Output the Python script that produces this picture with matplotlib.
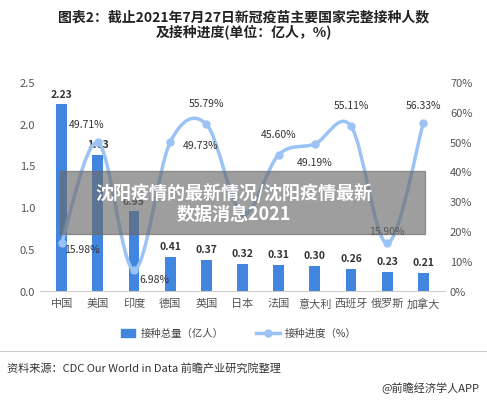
import matplotlib
matplotlib.use("Agg")
import matplotlib.pyplot as plt
import numpy as np
from matplotlib.path import Path
from matplotlib.patches import PathPatch, Rectangle

plt.rcParams['font.family'] = ['Noto Sans CJK SC', 'DejaVu Sans']

countries = ['中国','美国','印度','德国','英国','日本','法国','意大利','西班牙','俄罗斯','加拿大']
totals = [2.23,1.63,0.95,0.41,0.37,0.32,0.31,0.30,0.26,0.23,0.21]
progress = [15.98,49.71,6.98,49.73,55.79,25.9,45.60,49.19,55.11,15.90,56.33]
plabels = ['15.98%','49.71%','6.98%','49.73%','55.79%','','45.60%','49.19%','55.11%','15.90%','56.33%']

fig = plt.figure(figsize=(4.87,4.02), dpi=100)
ax = fig.add_axes([0.082, 0.274, 0.832, 0.52])
ax2 = ax.twinx()
x = np.arange(len(countries))
bc = '#4185de'; lc = '#9cc3f5'
ax.bar(x, totals, width=0.3, color=bc, zorder=2)
for xi, v in zip(x, totals):
    ax.text(xi, v+0.07, f'{v:.2f}', ha='center', va='bottom', fontsize=7.5, fontweight='bold', color='#333')
ax.set_ylim(0,2.5); ax.set_xlim(-0.6,10.6)
ax.set_yticks(np.arange(0,2.51,0.5)); ax.set_yticklabels([f'{v:.1f}' for v in np.arange(0,2.51,0.5)])
ax2.set_ylim(0,70); ax2.set_yticks(range(0,71,10)); ax2.set_yticklabels([f'{v}%' for v in range(0,71,10)])
ax.set_xticks(x); ax.set_xticklabels(countries)
for a in (ax, ax2):
    for s in a.spines.values(): s.set_visible(False)
    a.tick_params(length=0, labelsize=8, colors='#555')
ax.tick_params(axis='x', pad=5)
ax.spines['bottom'].set_visible(True); ax.spines['bottom'].set_color('#ccc')

pts = np.column_stack([x, progress]).astype(float)
verts=[tuple(pts[0])]; codes=[Path.MOVETO]
for i in range(len(pts)-1):
    p0 = pts[i-1] if i>0 else pts[i]; p1=pts[i]; p2=pts[i+1]; p3 = pts[i+2] if i+2<len(pts) else pts[i+1]
    c1 = p1+(p2-p0)/6; c2 = p2-(p3-p1)/6
    verts += [tuple(c1),tuple(c2),tuple(p2)]; codes += [Path.CURVE4]*3
ax2.add_patch(PathPatch(Path(verts,codes), fill=False, ec=lc, lw=2.5, zorder=3))
ax2.plot(x, progress, 'o', color=lc, ms=5, zorder=4)
offs = {0:(0.55,-2),1:(-0.3,6),2:(0.55,-3),3:(0.85,-1),4:(0,7),6:(0,7),7:(0,-6),8:(0,7),9:(0,4),10:(0,6)}
for i,l in enumerate(plabels):
    if l:
        dx,dy = offs[i]
        ax2.text(x[i]+dx, progress[i]+dy, l, ha='center', va='center', fontsize=7.5, color='#333', zorder=5)

fig.text(0.5, 0.975, '图表2：截止2021年7月27日新冠疫苗主要国家完整接种人数\n及接种进度(单位：亿人，%)', ha='center', va='top', fontsize=10, fontweight='bold', color='#222', linespacing=1.0)

ly = 0.169
fig.patches.append(Rectangle((0.248,ly-0.011),0.03,0.022, transform=fig.transFigure, color=bc))
fig.text(0.29, ly, '接种总量（亿人）', fontsize=7.5, va='center', color='#444')
fig.lines.append(plt.Line2D([0.525,0.575],[ly,ly], transform=fig.transFigure, color=lc, lw=2.5))
fig.lines.append(plt.Line2D([0.55],[ly], transform=fig.transFigure, color=lc, marker='o', ms=5))
fig.text(0.585, ly, '接种进度（%）', fontsize=7.5, va='center', color='#444')

fig.lines.append(plt.Line2D([0.0,1.0],[0.124,0.124], transform=fig.transFigure, color='#ccc', lw=0.8))
fig.text(0.015, 0.083, '资料来源：CDC Our World in Data 前瞻产业研究院整理', fontsize=8, va='center', color='#333')
fig.text(0.985, 0.035, '@前瞻经济学人APP', fontsize=8, va='center', ha='right', color='#333')

fig.patches.append(Rectangle((0.123,0.415),0.75,0.157, transform=fig.transFigure, color='#6b6b6b', alpha=0.65, zorder=10))
fig.text(0.48, 0.493, '沈阳疫情的最新情况/沈阳疫情最新\n数据消息2021', ha='center', va='center', fontsize=13, fontweight='bold', color='white', zorder=11, linespacing=1.15)

fig.savefig('out.png', dpi=100)
